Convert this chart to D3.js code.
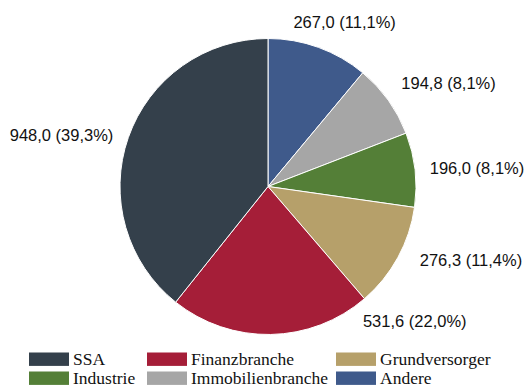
<!DOCTYPE html>
<html>
<head>
<meta charset="utf-8">
<script src="https://cdn.jsdelivr.net/npm/d3@7"></script>
<style>
  html, body { margin: 0; padding: 0; background: #fff; }
  svg { display: block; }
</style>
</head>
<body>
<svg id="chart" width="526" height="387"></svg>
<script>
// Sectors, in clockwise order from 12 o'clock
const categories = ["Andere", "Immobilienbranche", "Industrie", "Grundversorger", "Finanzbranche", "SSA"];
const values = [267.0, 194.8, 196.0, 276.3, 531.6, 948.0];
const colors = ["#3f5a8b", "#a6a6a6", "#547f37", "#b6a06a", "#a51e38", "#34404b"];

// Legend order (two rows of three)
const legendOrder = ["SSA", "Finanzbranche", "Grundversorger", "Industrie", "Immobilienbranche", "Andere"];

// Small hand offsets so the value labels don't crowd each other
const labelNudgeX = [-30, 1, 0, 9, 92, -1];
const labelNudgeY = [-11, -9, 0, -5, -28, 2];

const svg = d3.select("#chart");
const cx = 268, cy = 186.5, r = 148;
const total = d3.sum(values);

const fmt = v => d3.format(".1f")(v).replace(".", ",");
const color = d3.scaleOrdinal().domain(categories).range(colors);

const pie = d3.pie().sort(null).value(d => d.value);
const data = categories.map((c, i) => ({ name: c, value: values[i], i }));
const arcs = pie(data);
const arc = d3.arc().innerRadius(0).outerRadius(r);

const g = svg.append("g").attr("transform", `translate(${cx},${cy})`);

g.selectAll("path.slice")
  .data(arcs)
  .join("path")
  .attr("class", "slice")
  .attr("d", arc)
  .attr("fill", d => color(d.data.name))
  .attr("stroke", "#fff")
  .attr("stroke-width", 1)
  .attr("stroke-linejoin", "round");

// Value labels just outside the rim, aligned away from the centre
const labelR = r * 1.1;
g.selectAll("text.val")
  .data(arcs)
  .join("text")
  .attr("class", "val")
  .each(function (d) {
    const a = (d.startAngle + d.endAngle) / 2;
    const x = Math.sin(a) * labelR + labelNudgeX[d.data.i];
    const y = -Math.cos(a) * labelR + labelNudgeY[d.data.i];
    d3.select(this)
      .attr("x", x)
      .attr("y", y)
      .attr("dy", "0.36em")
      .attr("text-anchor", Math.sin(a) >= 0 ? "start" : "end");
  })
  .attr("font-family", "'Liberation Sans', Arial, Helvetica, sans-serif")
  .attr("font-size", 16.5)
  .attr("fill", "#111")
  .text(d => `${fmt(d.data.value)} (${fmt(d.data.value / total * 100)}%)`);

// Legend
const colX = [29, 147, 336];
const rowY = [352.5, 371.5];
const legend = svg.append("g");
legendOrder.forEach((name, k) => {
  const col = k % 3, row = Math.floor(k / 3);
  const item = legend.append("g").attr("transform", `translate(${colX[col]},${rowY[row]})`);
  item.append("rect")
    .attr("width", 40).attr("height", 13.4)
    .attr("fill", color(name));
  item.append("text")
    .attr("x", 44)
    .attr("y", 12)
    .attr("font-family", "'Liberation Serif', 'Times New Roman', serif")
    .attr("font-size", 17.5)
    .attr("fill", "#111")
    .text(name);
});
</script>
</body>
</html>
